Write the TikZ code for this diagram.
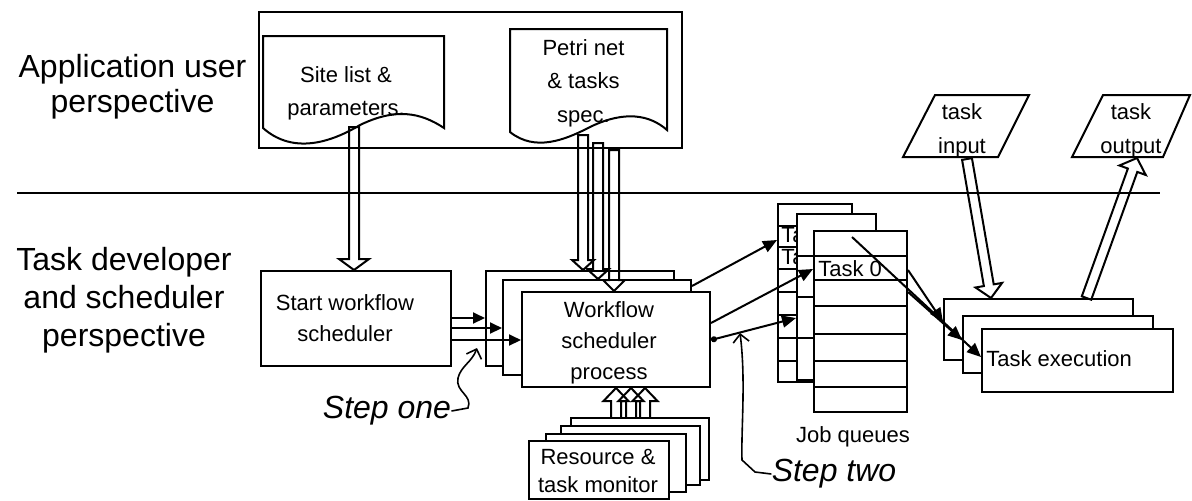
\documentclass[tikz,border=0pt]{standalone}
\usepackage{fontspec}
\setmainfont{Liberation Sans}
\usetikzlibrary{arrows.meta,calc}
\pgfdeclarelayer{bg}
\pgfsetlayers{bg,main}
% hollow block arrow: #1 start, #2 end, #3 head half width, #4 head length
\newcommand{\hollowarr}[4]{%
  \coordinate (ha-s) at #1;
  \coordinate (ha-e) at #2;
  \coordinate (ha-c) at ($(ha-e)!#4!(ha-s)$);
  \draw[hollow] ($(ha-s)!2.5pt!90:(ha-e)$) -- ($(ha-c)!2.5pt!90:(ha-e)$) -- ($(ha-c)!#3!90:(ha-e)$) -- (ha-e) -- ($(ha-c)!#3!-90:(ha-e)$) -- ($(ha-c)!2.5pt!-90:(ha-e)$) -- ($(ha-s)!2.5pt!-90:(ha-e)$) -- cycle;}
\begin{document}
\begin{tikzpicture}[x=0.5pt,y=-0.5pt,
  box/.style={draw, line width=1pt, fill=white, inner sep=0pt},
  lbl/.style={inner sep=0pt, align=center, font=\fontsize{11pt}{16pt}\selectfont},
  big/.style={inner sep=0pt, align=center, font=\fontsize{16pt}{19pt}\selectfont},
  stepl/.style={inner sep=0pt, font=\fontsize{16pt}{19pt}\selectfont\itshape},
  ln/.style={line width=1pt},
  hollow/.style={draw, line width=1pt, line join=miter},
  farrow/.style={line width=1pt, -{Triangle[length=6pt,width=5.5pt]}},
  qarrow/.style={line width=1pt, -{Triangle[length=7pt,width=6pt]}},
  curvy/.style={line width=0.8pt, -{Straight Barb[length=4pt,width=8pt]}},
]
\useasboundingbox (0,0) rectangle (1192,500);

% left labels
\node[big, font=\fontsize{16pt}{17.5pt}\selectfont] (app) at (132.5,86.5) {Application user\\perspective};
\node[big] (dev) at (124,300) {Task developer\\and scheduler\\perspective};

% application area
\node[box, minimum width=211.5pt, minimum height=68pt] (top) at (470.5,80) {};
\draw[ln, fill=white] (263,128) -- (263,36) -- (444,36) -- (444,128) .. controls (420,112) and (395,108) .. (360,125) .. controls (325,146) and (290,152) .. (263,128) -- cycle;
\node[lbl, font=\fontsize{11pt}{16.5pt}\selectfont] (site) at (346,93) {Site list \&\\parameters.};
\draw[ln, fill=white] (510,132) -- (510,29) -- (667,29) -- (667,130) .. controls (650,115) and (625,110) .. (590,127) .. controls (565,140) and (535,152) .. (510,132) -- cycle;
\node[lbl, font=\fontsize{11pt}{16.75pt}\selectfont] (petri) at (583.5,83) {Petri net\\\& tasks\\spec.};
\coordinate (siteout) at (354,127);
\coordinate (p1) at (583,135);
\coordinate (p2) at (598,143);
\coordinate (p3) at (614,150);

% separator
\coordinate (sepL) at (17,193);
\coordinate (sepR) at (1160,193);
\draw[ln] (sepL) -- (sepR);

% start workflow scheduler
\node[box, minimum width=95pt, minimum height=47.5pt] (start) at (356,318.5) {};
\node[lbl, font=\fontsize{11pt}{15.5pt}\selectfont] (startt) at (345,318.5) {Start workflow\\scheduler};

% workflow scheduler stack
\node[box, minimum width=94pt, minimum height=47.5pt] (wf3) at (580,318.5) {};
\node[box, minimum width=94pt, minimum height=47.5pt] (wf2) at (597,327.5) {};
\node[box, minimum width=94pt, minimum height=47.5pt] (wf1) at (616,339.5) {};
\node[lbl, font=\fontsize{11pt}{15.5pt}\selectfont] (wft) at (609,342.5) {Workflow\\scheduler\\process};

\draw[farrow] (start.east |- 0,318) -- (wf3.west |- 0,318);
\draw[farrow] (start.east |- 0,328) -- (wf2.west |- 0,328);
\draw[farrow] (start.east |- 0,340) -- (wf1.west |- 0,340);

% hollow arrows from documents
\hollowarr{(siteout)}{(start.north -| siteout)}{7.5pt}{5.5pt}
\hollowarr{(p1)}{(wf3.north -| p1)}{5.5pt}{5pt}
\hollowarr{(p2)}{(wf2.north -| p2)}{5.5pt}{5pt}
\hollowarr{(p3)}{(wf1.north -| p3)}{5.5pt}{5.5pt}

% resource monitor stack
\node[box, minimum width=69pt, minimum height=31pt] (m4) at (640,449) {};
\node[box, minimum width=69.5pt, minimum height=29.5pt] (m3) at (630.5,455.5) {};
\node[box, minimum width=70pt, minimum height=29pt] (m2) at (616,463) {};
\node[box, minimum width=70pt, minimum height=29pt] (m1) at (599,470) {};
\node[lbl, font=\fontsize{11pt}{14pt}\selectfont] (mt) at (598,471) {Resource \&\\task monitor};
\coordinate (mt1) at ($(wf1.south)+(0,0)$);
\coordinate (mt2) at ($(wf1.south)+(15,0)$);
\coordinate (mt3) at ($(wf1.south)+(29,0)$);
\begin{pgfonlayer}{bg}
\hollowarr{(m1.north -| mt1)}{(mt1)}{6.25pt}{6.5pt}
\hollowarr{(m1.north -| mt2)}{(mt2)}{6.25pt}{6.5pt}
\hollowarr{(m1.north -| mt3)}{(mt3)}{6.25pt}{6.5pt}
\end{pgfonlayer}

% job queues
\node[box, minimum width=37pt, minimum height=89pt] (q3) at (815,293) {};
\foreach \yy in {226,247,269,292,315,338,361} \draw[ln] (q3.west |- 0,\yy) -- (q3.east |- 0,\yy);
\node[lbl, anchor=west] (ta1) at (781,235) {Ta};
\node[lbl, anchor=west] (ta2) at (781,257) {Ta};
\node[box, minimum width=39.5pt, minimum height=83pt] (q2) at (836.5,297) {};
\foreach \yy in {256,297,338} \draw[ln] (q2.west |- 0,\yy) -- (q2.east |- 0,\yy);
\node[box, minimum width=46.5pt, minimum height=90.5pt] (q1) at (860.5,321.5) {};
\foreach \yy in {256,280,306,334,361,387} \draw[ln] (q1.west |- 0,\yy) -- (q1.east |- 0,\yy);
\node[lbl, anchor=west] (t0) at (818,269) {Task 0};
\node[lbl] (jq) at (853,437) {Job queues};

\draw[qarrow] ($(wf2.north east)+(0,7)$) -- (q3.west |- 0,240);
\draw[qarrow] (wf1.east |- 0,323) -- (q1.west |- 0,269);
\draw[line width=1pt, {Circle[length=3pt]}-{Triangle[length=7pt,width=6pt]}] (wf1.east |- 0,340) -- (q2.west |- 0,318);

% task execution stack
\node[box, minimum width=94.5pt, minimum height=30.5pt] (te3) at (1038.5,329.5) {};
\node[box, minimum width=95pt, minimum height=28.5pt] (te2) at (1058,344.5) {};
\node[box, minimum width=95.5pt, minimum height=31.5pt] (te1) at (1077.5,360.5) {};
\node[lbl, anchor=west] (tet) at (986,359) {Task execution};

\draw[qarrow] ($(q1.north)+(-8.5,7)$) -- (te1.west |- 0,357);
\draw[qarrow] (q1.east |- 0,270) -- (te3.west |- 0,322);
\draw[qarrow] (q1.east |- 0,292) -- (te2.west |- 0,340);

% task input / output
\draw[ln, fill=white] (935,95) -- (1029,95) -- (998,157) -- (903,157) -- cycle;
\node[lbl, font=\fontsize{11pt}{17pt}\selectfont] (tin) at (962,130.5) {task\\input};
\draw[ln, fill=white] (1103,95) -- (1190,95) -- (1163,157) -- (1072,157) -- cycle;
\node[lbl, font=\fontsize{11pt}{17pt}\selectfont] (tout) at (1131,130.5) {task\\output};
\coordinate (tinb) at (967,159);
\coordinate (toutb) at (1137,158);
\hollowarr{(tinb)}{($(te3.north)+(-47.5,0)$)}{6.75pt}{6.5pt}
\hollowarr{($(te3.north)+(48,0)$)}{(toutb)}{7pt}{6.5pt}

% step labels
\node[stepl] (s1) at (387,411) {Step one};
\node[stepl] (s2) at (834,474) {Step two};
\draw[curvy] (s1.east) -- (468,408) .. controls (473,395) and (455,392) .. (458,378) .. controls (461,366) and (472,362) .. (477,348);
\draw[curvy] (s2.west) -- (755,472) -- (742,460) .. controls (741,430) and (746,380) .. (740,333);
\end{tikzpicture}
\end{document}
